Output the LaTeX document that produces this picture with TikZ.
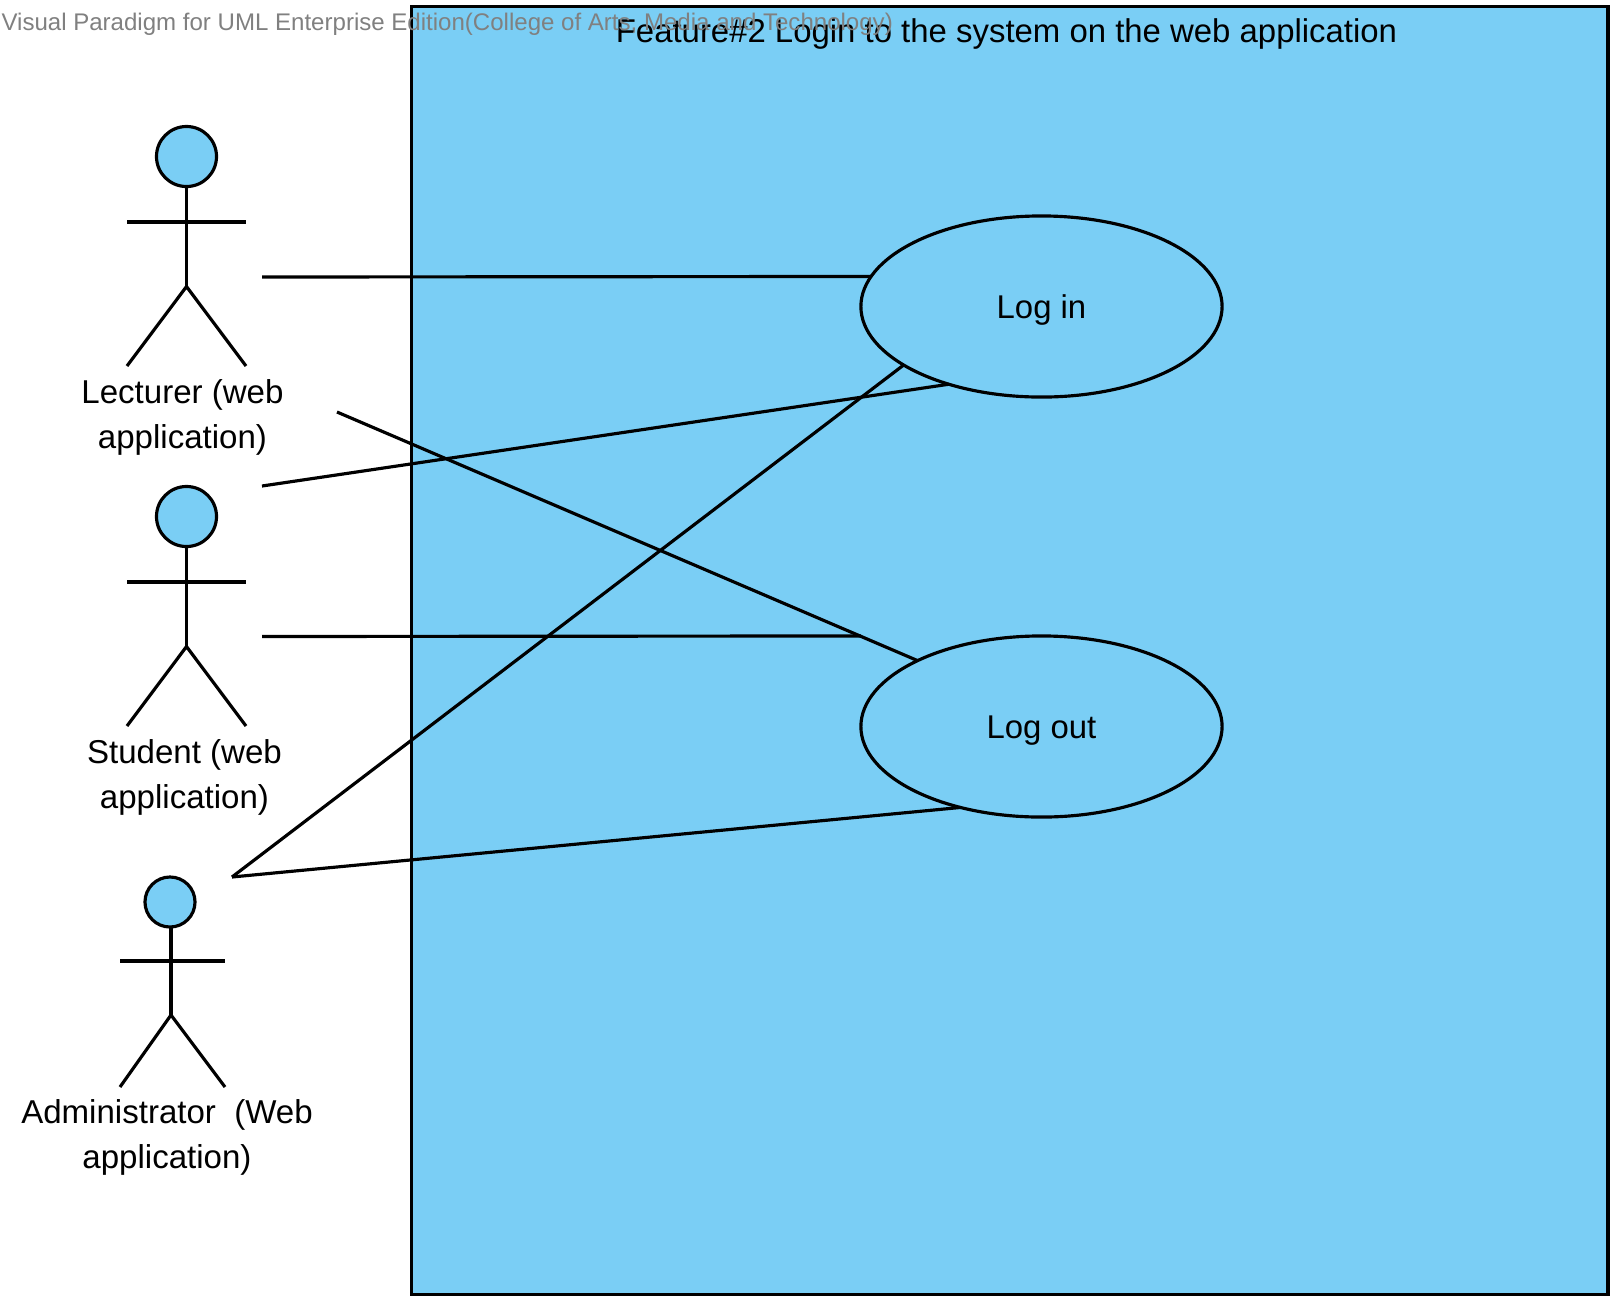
\documentclass[tikz,border=0pt]{standalone}
\usepackage{fontspec}
\setmainfont{Liberation Sans}
\usetikzlibrary{positioning, shapes.geometric}
\definecolor{vpblue}{HTML}{7ACEF5}

\begin{document}
\begin{tikzpicture}[
        x=0.01cm, y=-0.01cm,
        line width=0.9pt,
        frame/.style={rectangle, draw, fill=vpblue, minimum width=11.96cm, minimum height=12.87cm, outer sep=0pt},
        usecase/.style={ellipse, draw, fill=vpblue, minimum width=3.61cm, minimum height=1.81cm, outer sep=0pt, text height=9pt, text depth=2pt, font=\fontsize{9.36}{12.8}\selectfont},
        head/.style={circle, draw, fill=vpblue, inner sep=0pt, outer sep=0pt, minimum size=0.6cm},
        smallhead/.style={head, minimum size=0.5cm},
        actorname/.style={align=center, inner sep=0pt, font=\fontsize{9.4}{12.8}\selectfont},
        title/.style={inner sep=0pt, anchor=base, font=\fontsize{9.36}{12.8}\selectfont},
        watermark/.style={inner sep=0pt, anchor=base west, text=black!50, font=\fontsize{6.84}{8}\selectfont},
        assoc/.style={line cap=butt}
    ]
        \useasboundingbox (0,0) rectangle (1623,1308);

        % System boundary
        \node (system) [frame] at (1009.7,650.5) {};
        \node (systemtitle) [title] at (1006.5,42) {Feature\#2 Login to the system on the web application};

        % Use cases
        \node (login) [usecase] at (1041.5,306.5) {Log in};
        \node (logout) [usecase] at (1041.5,726.5) {Log out};

        % Actors
        \node (lecturer) [head] at (186.5,156.5) {};
        \draw (lecturer.south) -- ++(0,100) coordinate (lecturerhip);
        \draw (127,222) -- (246,222);
        \draw (127,366) -- (lecturerhip) -- (246,366);
        \node (lecturername) [actorname] at (182.5,417.5) {Lecturer (web\\application)};

        \node (student) [head] at (186.5,516.5) {};
        \draw (student.south) -- ++(0,100) coordinate (studenthip);
        \draw (127,582) -- (246,582);
        \draw (127,726) -- (studenthip) -- (246,726);
        \node (studentname) [actorname] at (184.5,777.5) {Student (web\\application)};

        \node (admin) [smallhead] at (170,902) {};
        \draw (admin.south) ++(1,0) -- ++(0,88) coordinate (adminhip);
        \draw (120,961) -- (225,961);
        \draw (120,1087) -- (adminhip) -- (225,1087);
        \node (adminname) [actorname] at (167,1137.5) {Administrator\ \ (Web\\application)};

        % Free ends beside the actors
        \coordinate (lecturerin) at (262,277);
        \coordinate (lecturerout) at (337,412);
        \coordinate (studentin) at (262,486);
        \coordinate (studentout) at (262,636.5);
        \coordinate (adminend) at (232,877);

        % Associations
        \draw [assoc] (lecturerin) -- (login.170.2);
        \draw [assoc] (studentin) -- (login.220.3);
        \draw [assoc] (adminend) -- (login.203.6);
        \draw [assoc] (lecturerout) -- (logout.152.7);
        \draw [assoc] (studentout) -- (logout.west |- logout.north);
        \draw [assoc] (adminend) -- (logout.225.7);

        % Tool stamp
        \node (stamp) [watermark] at (0,30) {Visual Paradigm for UML Enterprise Edition(College of Arts, Media and Technology)};
    \end{tikzpicture}
\end{document}
